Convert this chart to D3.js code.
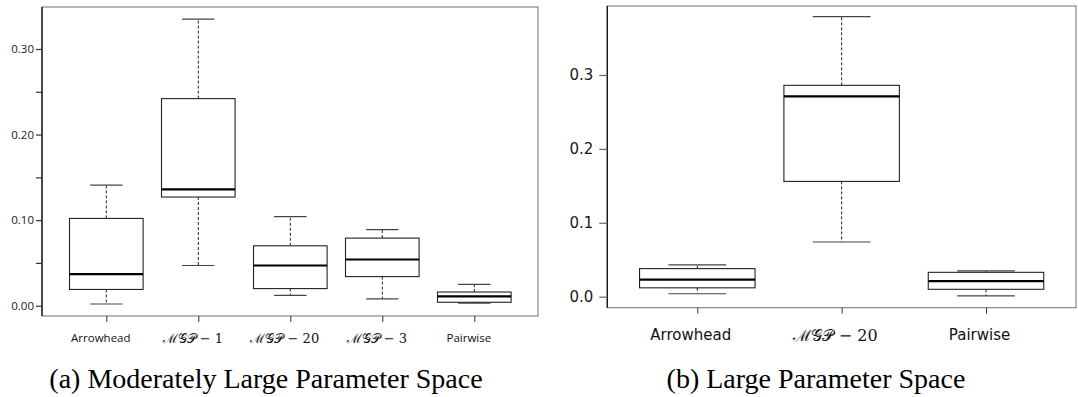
<!DOCTYPE html>
<html>
<head>
<meta charset="utf-8">
<script src="https://cdn.jsdelivr.net/npm/d3@7/dist/d3.min.js"></script>
<style>
  html, body { margin: 0; padding: 0; background: #fff; }
  svg { display: block; }
</style>
</head>
<body>
<svg id="chart" width="1078" height="397"></svg>
<script>
// Panel (a): moderately large parameter space
const categoriesA = ["Arrowhead", "ℳ𝒢𝒫 − 1", "ℳ𝒢𝒫 − 20", "ℳ𝒢𝒫 − 3", "Pairwise"];
const whiskerLowA  = [0.002, 0.047, 0.012, 0.008, 0.003];
const q1A          = [0.019, 0.127, 0.020, 0.034, 0.004];
const medianA      = [0.037, 0.136, 0.047, 0.054, 0.011];
const q3A          = [0.102, 0.242, 0.070, 0.079, 0.016];
const whiskerHighA = [0.141, 0.335, 0.104, 0.089, 0.025];
const ticksA       = [0, 0.05, 0.10, 0.15, 0.20, 0.25, 0.30];
const tickLabelsA  = ["0.00", "", "0.10", "", "0.20", "", "0.30"];

// Panel (b): large parameter space
const categoriesB = ["Arrowhead", "ℳ𝒢𝒫 − 20", "Pairwise"];
const whiskerLowB  = [0.004, 0.074, 0.001];
const q1B          = [0.012, 0.156, 0.010];
const medianB      = [0.023, 0.271, 0.021];
const q3B          = [0.038, 0.286, 0.033];
const whiskerHighB = [0.043, 0.379, 0.035];
const ticksB       = [0, 0.1, 0.2, 0.3];
const tickLabelsB  = ["0.0", "0.1", "0.2", "0.3"];

const captions = ["(a) Moderately Large Parameter Space", "(b) Large Parameter Space"];

const svg = d3.select("#chart");

function drawPanel(cfg) {
  const g = svg.append("g");
  const x = d3.scalePoint().domain(cfg.categories).range(cfg.xRange);
  const step = x.step();
  const boxW = step * 0.8;
  const capW = boxW * cfg.capRatio;
  const y = d3.scaleLinear().domain(cfg.yDomain).range([cfg.bottom, cfg.top]);

  const rows = cfg.categories.map((c, i) => ({
    cat: c, lo: cfg.lo[i], q1: cfg.q1[i], med: cfg.med[i], q3: cfg.q3[i], hi: cfg.hi[i]
  }));

  // frame
  g.append("rect")
    .attr("x", cfg.left).attr("y", cfg.top)
    .attr("width", cfg.right - cfg.left).attr("height", cfg.bottom - cfg.top)
    .attr("fill", "none").attr("stroke", "#707070").attr("stroke-width", 1);
  g.append("line")
    .attr("x1", cfg.left).attr("x2", cfg.left)
    .attr("y1", cfg.top).attr("y2", cfg.bottom)
    .attr("stroke", "#1a1a1a").attr("stroke-width", 1.4);

  // y axis
  const yAxis = d3.axisLeft(y)
    .tickValues(cfg.ticks)
    .tickFormat((d, i) => cfg.tickLabels[i])
    .tickSize(cfg.yTickLen).tickPadding(cfg.yTickPad);
  const ya = g.append("g").attr("transform", `translate(${cfg.left},0)`).call(yAxis);
  ya.select(".domain").remove();
  ya.selectAll(".tick line").attr("stroke", cfg.tickColor).attr("stroke-width", 1.2);
  ya.selectAll(".tick text")
    .attr("font-family", cfg.tickFont).attr("font-size", cfg.tickSize)
    .attr("fill", "#1a1a1a");

  // x axis
  const xAxis = d3.axisBottom(x).tickSize(cfg.xTickLen).tickPadding(cfg.xTickPad);
  const xa = g.append("g").attr("transform", `translate(0,${cfg.bottom})`).call(xAxis);
  xa.select(".domain").remove();
  xa.selectAll(".tick line").attr("stroke", "#333").attr("stroke-width", 1);
  xa.selectAll(".tick text")
    .attr("dx", cfg.labelDx)
    .attr("font-family", d => d.startsWith("ℳ") ? cfg.mathFont : cfg.labelFont)
    .attr("font-size", d => d.startsWith("ℳ") ? cfg.mathSize : cfg.labelSize)
    .attr("fill", "#111");

  const boxes = g.selectAll("g.box").data(rows).join("g").attr("class", "box");

  // dashed whiskers
  boxes.append("line")
    .attr("x1", d => x(d.cat)).attr("x2", d => x(d.cat))
    .attr("y1", d => y(d.q3)).attr("y2", d => y(d.hi))
    .attr("stroke", "#222").attr("stroke-width", 1).attr("stroke-dasharray", "3,2");
  boxes.append("line")
    .attr("x1", d => x(d.cat)).attr("x2", d => x(d.cat))
    .attr("y1", d => y(d.q1)).attr("y2", d => y(d.lo))
    .attr("stroke", "#222").attr("stroke-width", 1).attr("stroke-dasharray", "3,2");

  // whisker caps
  boxes.append("line")
    .attr("x1", d => x(d.cat) - capW / 2).attr("x2", d => x(d.cat) + capW / 2)
    .attr("y1", d => y(d.hi)).attr("y2", d => y(d.hi))
    .attr("stroke", "#444").attr("stroke-width", 1.2);
  boxes.append("line")
    .attr("x1", d => x(d.cat) - capW / 2).attr("x2", d => x(d.cat) + capW / 2)
    .attr("y1", d => y(d.lo)).attr("y2", d => y(d.lo))
    .attr("stroke", "#444").attr("stroke-width", 1.2);

  // boxes
  boxes.append("rect")
    .attr("x", d => x(d.cat) - boxW / 2).attr("width", boxW)
    .attr("y", d => y(d.q3)).attr("height", d => y(d.q1) - y(d.q3))
    .attr("fill", "#fff").attr("stroke", "#222").attr("stroke-width", 1.1);

  // medians
  boxes.append("line")
    .attr("x1", d => x(d.cat) - boxW / 2).attr("x2", d => x(d.cat) + boxW / 2)
    .attr("y1", d => y(d.med)).attr("y2", d => y(d.med))
    .attr("stroke", "#000").attr("stroke-width", 2.2);

  // caption
  g.append("text")
    .attr("x", cfg.captionX).attr("y", cfg.captionY)
    .attr("text-anchor", "middle")
    .attr("font-family", "'Liberation Serif', 'Times New Roman', serif")
    .attr("font-size", 28).attr("fill", "#000")
    .text(cfg.caption);
}

drawPanel({
  categories: categoriesA, lo: whiskerLowA, q1: q1A, med: medianA, q3: q3A, hi: whiskerHighA,
  ticks: ticksA, tickLabels: tickLabelsA,
  left: 42, right: 538, top: 7, bottom: 316,
  xRange: [106.3, 474.3],
  yDomain: [(305.7 - 316) / 855.7, (305.7 - 7) / 855.7],
  capRatio: 0.44,
  yTickLen: 6, yTickPad: 2, tickColor: "#333",
  tickFont: "'Open Sans', sans-serif", tickSize: 11.5,
  xTickLen: 6, xTickPad: 12, labelDx: -6,
  labelFont: "'Open Sans', sans-serif", labelSize: 11.5,
  mathFont: "'DejaVu Serif', serif", mathSize: 13,
  caption: captions[0], captionX: 266, captionY: 388
});

drawPanel({
  categories: categoriesB, lo: whiskerLowB, q1: q1B, med: medianB, q3: q3B, hi: whiskerHighB,
  ticks: ticksB, tickLabels: tickLabelsB,
  left: 607.3, right: 1076, top: 6, bottom: 307.7,
  xRange: [697.3, 986],
  yDomain: [(296.7 - 307.7) / 739, (296.7 - 6) / 739],
  capRatio: 0.5,
  yTickLen: 8, yTickPad: 6, tickColor: "#666",
  tickFont: "'DejaVu Sans', sans-serif", tickSize: 15,
  xTickLen: 6, xTickPad: 15.5, labelDx: -7,
  labelFont: "'DejaVu Sans', sans-serif", labelSize: 15,
  mathFont: "'DejaVu Serif', serif", mathSize: 16,
  caption: captions[1], captionX: 816, captionY: 388
});
</script>
</body>
</html>
